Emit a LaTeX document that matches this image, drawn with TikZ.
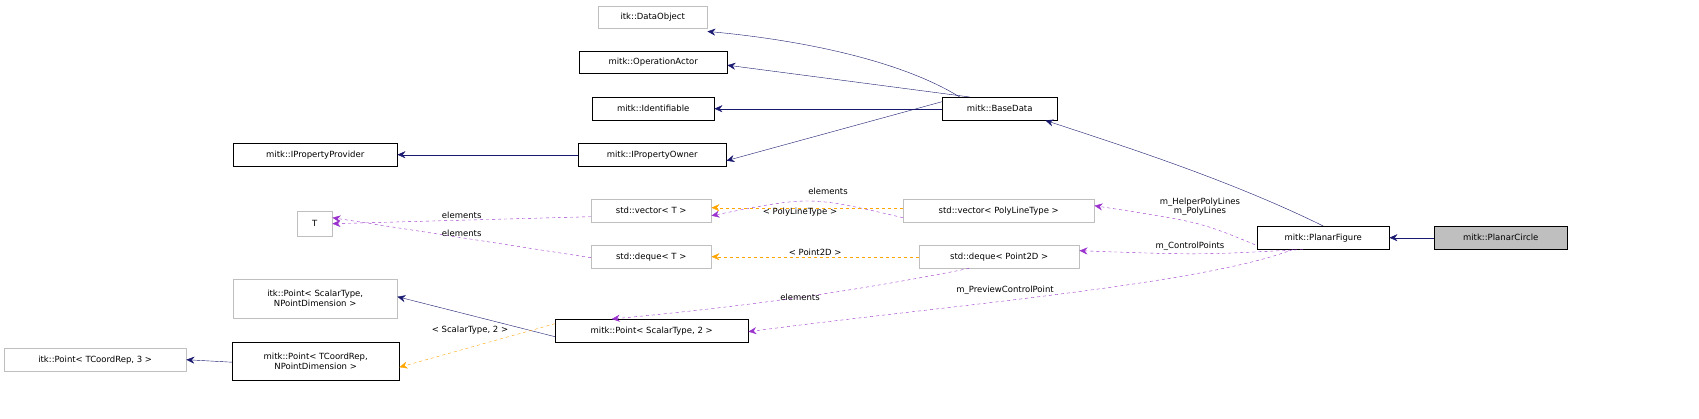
\documentclass[tikz,border=0pt]{standalone}
\usepackage{fontspec}
\setmainfont{DejaVu Sans}
\usetikzlibrary{arrows.meta}
\definecolor{navy}{HTML}{191970}
\definecolor{purp}{HTML}{9A32CD}
\definecolor{orng}{HTML}{FFA500}
\definecolor{gr}{HTML}{BFBFBF}
\newcommand\mybx[6]{\node[#1,minimum width=#4pt,minimum height=#5pt] (#2) at (#3) {#6};}
\begin{document}
\begin{tikzpicture}[x=1pt,y=-1pt,
 box/.style={draw=black,fill=white,font=\fontsize{8.5}{10}\selectfont,inner sep=0pt,anchor=north west,align=center},
 gbox/.style={box,draw=gr},
 lab/.style={font=\fontsize{8.5}{10}\selectfont,inner sep=1pt},
 inh/.style={draw=navy,-{Stealth[length=8pt,width=7pt,fill=navy]}},
 use/.style={draw=purp,dashed,-{Stealth[length=8pt,width=7pt,fill=purp,sep=0pt]}},
 tpl/.style={draw=orng,dashed,-{Stealth[length=8pt,width=7pt,fill=orng]}}]
\mybx{gbox}{do}{598,6}{109}{22}{itk::DataObject}
\mybx{box}{oa}{579,51}{148}{22}{mitk::OperationActor}
\mybx{box}{id}{592,97}{122}{23}{mitk::Identifiable}
\mybx{box}{ipo}{578,143}{148}{23}{mitk::IPropertyOwner}
\mybx{box}{ipp}{233,143}{164}{23}{mitk::IPropertyProvider}
\mybx{box}{bd}{942,97}{115}{23}{mitk::BaseData}
\mybx{gbox}{T}{297,211}{35}{25}{T}
\mybx{gbox}{vT}{591,199}{120}{23}{std::vector< T >}
\mybx{gbox}{dT}{591,245}{120}{23}{std::deque< T >}
\mybx{gbox}{vP}{903,199}{191}{23}{std::vector< PolyLineType >}
\mybx{gbox}{dP}{919,245}{160}{23}{std::deque< Point2D >}
\mybx{box}{pf}{1257,226}{132}{23}{mitk::PlanarFigure}
\node[box,fill=gr,minimum width=133pt,minimum height=23pt] (pc) at (1434,226) {mitk::PlanarCircle};
\mybx{gbox}{ipS}{233,279}{164}{39}{itk::Point< ScalarType,\\NPointDimension >}
\mybx{box}{mpS}{555,319}{193}{23}{mitk::Point< ScalarType, 2 >}
\mybx{gbox}{ipT}{4,348}{182}{23}{itk::Point< TCoordRep, 3 >}
\mybx{box}{mpT}{232,342}{167}{38}{mitk::Point< TCoordRep,\\NPointDimension >}
% inheritance
\draw[inh] (pc.west) -- (pf.east);
\draw[inh] (pf.north) .. controls (1230,180) and (1120,145) .. ([xshift=-12pt]bd.south east);
\draw[inh] ([xshift=-40pt]bd.north) .. controls (900,60) and (800,40) .. ([yshift=-3pt]do.south east);
\draw[inh] ([xshift=-30pt]bd.north) -- ([yshift=-3pt]oa.east);
\draw[inh] (bd.west) -- (id.east);
\draw[inh] ([yshift=7pt]bd.west) -- ([yshift=-6pt]ipo.east);
\draw[inh] (ipo.west) -- (ipp.east);
\draw[inh] ([yshift=-6pt]mpS.west) -- ([yshift=2pt]ipS.east);
\draw[inh] ([yshift=-1pt]mpT.west) -- (ipT.east);
% usage
\draw[use] ([yshift=-6pt]vT.west) -- ([yshift=0pt]T.east) node[lab,midway,above] {elements};
\draw[use] ([yshift=-1pt]dT.west) -- ([yshift=6pt]T.east) node[lab,midway,above] {elements};
\draw[use] ([yshift=-7pt]vP.west) .. controls (810,196) .. ([yshift=-5pt]vT.east);
\node[lab] at (828,191) {elements};
\draw[tpl] ([yshift=3pt]vP.west) -- ([yshift=3pt]vT.east);
\node[lab] at (800,212) {< PolyLineType >};
\draw[tpl] (dP.west) -- (dT.east) node[lab,midway,above] {< Point2D >};
\draw[use] ([xshift=-30pt]dP.south) .. controls (860,290) and (760,305) .. ([xshift=-40pt]mpS.north);
\node[lab] at (800,297) {elements};
\draw[tpl] ([yshift=7pt]mpS.west) .. controls (480,345) .. ([yshift=-6pt]mpT.east);
\node[lab] at (470,330) {< ScalarType, 2 >};
\draw[use] ([xshift=-2pt,yshift=-7pt]pf.west) .. controls (1200,222) .. ([yshift=5pt]vP.east);
\node[lab,align=center,font=\fontsize{8.5}{9.5}\selectfont] at (1200,207) {m\_HelperPolyLines\\m\_PolyLines};
\draw[use] ([xshift=-20pt]pf.south) .. controls (1200,255) .. ([yshift=6pt]dP.east);
\node[lab] at (1190,246) {m\_ControlPoints};
\draw[use] ([xshift=-30pt]pf.south) .. controls (1200,285) and (950,305) .. ([yshift=-1pt]mpS.east);
\node[lab] at (1005,290) {m\_PreviewControlPoint};
\pgfresetboundingbox
\path[use as bounding box] (0,0) rectangle (1699,418);
\end{tikzpicture}
\end{document}
